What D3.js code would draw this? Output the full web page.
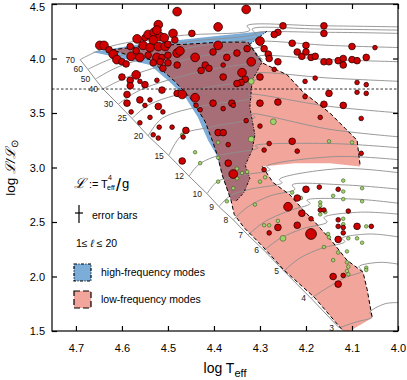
<!DOCTYPE html>
<html>
<head>
<meta charset="utf-8">
<script src="https://cdn.jsdelivr.net/npm/d3@7"></script>
<style>
body { margin: 0; background: #fff; }
text { font-family: "Liberation Sans", Arial, sans-serif; }
</style>
</head>
<body>
<svg id="chart" width="407" height="380"></svg>
<script>
"use strict";

// axis ticks
var xTicks = [4.7, 4.6, 4.5, 4.4, 4.3, 4.2, 4.1, 4.0];
var yTicks = [1.5, 2.0, 2.5, 3.0, 3.5, 4.0, 4.5];

// evolutionary tracks, [log Teff, log L] from ZAMS onwards
var masses = [70, 60, 50, 40, 30, 25, 20, 15, 12, 10, 9, 8, 7, 6, 5, 4, 3];
var tracks = [
    [[4.691,3.99],[4.626,4.11],[4.474,4.21],[4.322,4.26],[4.328,4.30],[4.169,4.30],[3.995,4.29]],
    [[4.674,3.90],[4.615,4.01],[4.463,4.15],[4.311,4.23],[4.317,4.27],[4.169,4.27],[3.995,4.26]],
    [[4.658,3.81],[4.604,3.93],[4.452,4.10],[4.304,4.20],[4.311,4.23],[4.158,4.24],[3.995,4.23]],
    [[4.641,3.72],[4.582,3.84],[4.441,4.01],[4.295,4.12],[4.302,4.15],[4.148,4.12],[3.995,4.10]],
    [[4.608,3.58],[4.561,3.71],[4.430,3.88],[4.295,3.99],[4.302,4.02],[4.148,3.99],[3.995,3.97]],
    [[4.578,3.45],[4.539,3.58],[4.419,3.73],[4.304,3.82],[4.311,3.86],[4.148,3.82],[3.995,3.79]],
    [[4.543,3.29],[4.513,3.45],[4.419,3.57],[4.317,3.64],[4.324,3.67],[4.148,3.56],[3.995,3.50]],
    [[4.498,3.11],[4.469,3.30],[4.409,3.37],[4.311,3.46],[4.317,3.49],[4.148,3.35],[3.995,3.28]],
    [[4.454,2.92],[4.435,3.02],[4.398,3.10],[4.304,3.18],[4.311,3.20],[4.148,3.22],[3.995,3.18]],
    [[4.415,2.76],[4.393,2.87],[4.354,2.92],[4.278,2.98],[4.285,3.01],[4.137,3.10],[3.995,3.07]],
    [[4.389,2.64],[4.365,2.74],[4.322,2.80],[4.252,2.86],[4.258,2.89],[4.126,2.99],[3.995,2.95]],
    [[4.358,2.52],[4.326,2.64],[4.278,2.74],[4.224,2.80],[4.230,2.84],[4.115,2.84],[3.995,2.80]],
    [[4.326,2.38],[4.291,2.50],[4.239,2.60],[4.191,2.67],[4.198,2.70],[4.093,2.71],[3.995,2.67]],
    [[4.291,2.24],[4.256,2.35],[4.206,2.44],[4.154,2.50],[4.161,2.54],[4.082,2.59],[3.995,2.57]],
    [[4.248,2.05],[4.213,2.17],[4.165,2.26],[4.115,2.32],[4.122,2.35],[4.061,2.39],[3.995,2.36]],
    [[4.189,1.80],[4.156,1.89],[4.115,1.99],[4.078,2.05],[4.085,2.09],[4.039,2.13],[3.995,2.11]],
    [[4.128,1.53],[4.093,1.58],[4.056,1.63],[4.061,1.67],[4.028,1.75],[3.995,1.76]]
];

// instability regions
var blueRegion = [
    [4.665,4.06],[4.561,4.13],[4.430,4.19],[4.317,4.24],[4.285,4.25],[4.322,4.13],
    [4.295,3.97],[4.317,3.80],[4.322,3.55],[4.311,3.30],[4.317,3.16],[4.332,3.02],
    [4.322,2.90],[4.335,2.77],[4.352,2.69],[4.363,2.70],[4.382,2.93],[4.395,3.12],
    [4.413,3.25],[4.435,3.46],[4.463,3.65],[4.495,3.78],[4.539,3.94],[4.608,4.01]
];
var blueEdge = [4, 14];

var pinkRegion = [
    [4.622,4.08],[4.539,4.12],[4.463,4.13],[4.387,4.15],[4.326,4.15],[4.304,4.01],
    [4.295,3.96],[4.241,3.85],[4.206,3.69],[4.148,3.50],[4.115,3.36],[4.089,3.25],
    [4.082,3.01],[4.148,3.04],[4.224,3.04],[4.295,3.01],[4.271,2.86],[4.235,2.75],
    [4.206,2.61],[4.185,2.52],[4.141,2.31],[4.111,2.15],[4.076,2.04],[4.067,1.88],
    [4.056,1.62],[4.093,1.53],[4.113,1.47],[4.182,1.81],[4.248,2.06],[4.295,2.28],
    [4.335,2.45],[4.356,2.57],[4.363,2.70],[4.382,2.93],[4.391,3.09],[4.402,3.23],
    [4.419,3.42],[4.448,3.62],[4.485,3.79],[4.539,3.99],[4.593,4.04]
];
var pinkEdges = [[0, 12], [15, 24], [26, 41]];

var hLine = 3.72;

// stars: [log Teff, log L, size class]
var redStars = [
    [4.648,4.12,3],[4.639,4.12,3],[4.628,4.08,2],[4.619,4.04,3],[4.611,3.99,3],[4.600,3.97,2],
    [4.591,3.95,2],[4.580,4.02,3],[4.561,4.01,3],[4.569,4.07,2],[4.582,4.11,2],[4.567,4.18,3],
    [4.550,4.19,2],[4.543,4.22,3],[4.530,4.24,3],[4.521,4.31,3],[4.517,4.20,3],[4.508,4.19,3],
    [4.489,4.23,3],[4.485,4.17,2],[4.554,4.12,3],[4.539,4.10,3],[4.521,4.11,3],[4.506,4.11,3],
    [4.543,4.03,2],[4.524,4.01,3],[4.513,4.01,2],[4.532,3.96,2],[4.517,3.97,2],[4.500,3.96,2],
    [4.500,4.03,2],[4.480,4.05,3],[4.474,4.07,3],[4.480,4.43,3],[4.448,4.23,2],[4.511,3.91,2],
    [4.480,3.94,2],[4.524,4.26,3],[4.532,4.17,3],[4.500,4.13,2],
    [4.600,3.83,2],[4.569,3.85,3],[4.582,3.80,2],[4.582,3.75,2],[4.561,3.79,1],[4.550,3.76,2],
    [4.513,3.71,2],[4.524,3.80,1],[4.589,3.67,2],[4.561,3.62,2],[4.539,3.62,1],[4.589,3.59,2],
    [4.550,3.57,1],[4.521,3.56,2],[4.580,3.51,1],[4.539,3.46,1],[4.561,3.41,1],[4.532,3.30,1],
    [4.521,3.27,1],[4.519,3.37,1],[4.511,3.51,1],[4.491,3.37,1],[4.461,3.34,2],[4.467,3.28,1],
    [4.469,3.06,2],[4.480,3.68,2],[4.469,3.67,3],
    [4.391,4.29,3],[4.330,4.45,3],[4.250,4.30,2],[4.261,4.24,2],[4.269,4.22,2],[4.300,4.16,3],
    [4.391,4.12,3],[4.402,4.06,2],[4.441,4.01,3],[4.350,4.05,2],[4.328,4.09,2],[4.319,3.97,3],
    [4.291,4.09,2],[4.282,4.04,2],[4.280,4.00,2],[4.261,3.97,2],[4.269,3.90,1],[4.230,4.14,2],
    [4.219,4.06,2],[4.209,4.02,2],[4.200,4.12,2],[4.200,4.06,2],[4.189,4.01,2],[4.180,4.02,2],
    [4.372,4.01,2],[4.380,3.94,1],[4.419,3.94,2],[4.411,3.91,2],[4.428,3.89,2],[4.380,3.83,2],
    [4.339,3.87,3],[4.332,3.81,2],[4.341,3.78,2],[4.350,3.77,2],[4.300,3.83,2],[4.441,3.64,3],
    [4.402,3.59,2],[4.361,3.59,2],[4.358,3.57,1],[4.380,3.54,1],[4.300,3.59,2],[4.261,3.60,2],
    [4.439,3.57,1],[4.430,3.53,1],[4.330,3.43,1],[4.300,3.38,1],[4.202,3.79,1],[4.202,3.65,1],
    [4.161,4.30,2],[4.161,4.23,2],[4.161,3.97,2],[4.150,3.97,2],[4.130,3.98,2],[4.119,4.00,2],
    [4.119,3.94,2],[4.100,3.99,2],[4.089,3.98,2],[4.069,4.01,2],[4.100,4.11,2],[4.050,4.10,1],
    [4.180,3.82,1],[4.150,3.68,2],[4.089,3.78,1],[4.069,3.76,1],[4.089,3.69,1],[4.069,3.68,1],
    [4.119,3.57,2],[4.161,3.58,2],[4.169,3.46,1],[4.080,3.45,1],
    [4.391,3.32,2],[4.380,3.32,2],[4.369,3.21,1],[4.280,3.22,1],[4.291,3.16,1],[4.230,3.24,2],
    [4.219,3.15,1],[4.080,3.13,1],[4.369,3.04,2],[4.358,2.94,3],[4.291,2.98,1],
    [4.171,2.82,1],[4.200,2.80,2],[4.219,2.72,2],[4.130,2.80,1],[4.239,2.64,3],[4.209,2.58,2],
    [4.189,2.53,1],[4.169,2.61,1],[4.161,2.61,1],[4.108,2.60,1],[4.280,2.40,1],[4.261,2.45,2],
    [4.219,2.47,2],[4.189,2.39,4],[4.130,2.34,2],[4.130,2.52,1],[4.130,2.46,1],[4.119,2.45,1],
    [4.119,2.40,1],[4.089,2.46,2],[4.058,2.46,1],[4.141,2.00,2],[4.119,2.01,1],[4.130,1.93,2]
];
var greenStars = [
    [4.469,3.30,1],[4.441,3.14,1],[4.430,3.04,1],[4.391,3.23,1],[4.391,3.09,1],[4.350,2.99,1],
    [4.339,2.95,1],[4.328,2.96,1],[4.350,2.90,1],[4.391,2.87,1],[4.358,2.81,1],[4.372,2.69,1],
    [4.319,3.79,2],[4.271,3.42,2],[4.319,3.26,2],[4.150,3.24,1],[4.100,3.23,1],[4.289,2.91,1],
    [4.300,2.87,1],[4.119,2.88,1],[4.078,2.81,1],[4.119,2.78,1],[4.211,2.72,1],[4.230,2.77,1],
    [4.169,2.68,1],[4.169,2.65,1],[4.141,2.74,1],[4.119,2.71,1],[4.078,2.69,1],[4.311,2.66,1],
    [4.158,2.59,1],[4.169,2.57,1],[4.261,2.51,1],[4.291,2.47,1],[4.280,2.47,1],[4.250,2.35,2],
    [4.152,2.39,1],[4.150,2.36,1],[4.161,2.27,1],[4.141,2.15,1],[4.130,2.22,1],[4.111,2.23,1],
    [4.111,2.13,1],[4.108,2.09,1],[4.111,2.05,1],[4.119,2.53,1],[4.119,2.48,1],[4.069,2.46,1],
    [4.108,2.35,1],[4.089,2.35,1],[4.078,2.31,1],[4.069,2.08,1],[4.069,2.06,1],[4.108,2.02,1]
];

var svg = d3.select("#chart"),
    plotLeft = 52, plotRight = 398, plotTop = 4, plotBottom = 331;

var x = d3.scaleLinear().domain([4.752, 4.0]).range([plotLeft, plotRight]);
var y = d3.scaleLinear().domain([1.5, 4.5]).range([plotBottom, plotTop]);
var rRed = d3.scaleLinear().domain([1, 4]).range([2.3, 5.4]);
var rGreen = d3.scaleLinear().domain([1, 2]).range([1.8, 2.9]);

var defs = svg.append("defs");
defs.append("clipPath").attr("id", "plotClip")
    .append("rect").attr("x", plotLeft).attr("y", plotTop)
    .attr("width", plotRight - plotLeft).attr("height", plotBottom - plotTop);

var poly = d3.line().x(function (d) { return x(d[0]); }).y(function (d) { return y(d[1]); });
var smooth = d3.line().x(function (d) { return x(d[0]); }).y(function (d) { return y(d[1]); })
    .curve(d3.curveCatmullRom.alpha(0.5));

defs.append("clipPath").attr("id", "blueClip")
    .append("path").attr("d", poly(blueRegion) + "Z");

function slice(pts, a, b) {
    var out = [];
    for (var i = a; i <= b; i++) { out.push(pts[i % pts.length]); }
    return out;
}

var plot = svg.append("g").attr("clip-path", "url(#plotClip)");

// regions
plot.append("path").attr("d", poly(blueRegion) + "Z").attr("fill", "#7cacd8");
plot.append("path").attr("d", poly(pinkRegion) + "Z").attr("fill", "#f2a59b");
plot.append("path").attr("d", poly(pinkRegion) + "Z").attr("fill", "#a86e78")
    .attr("clip-path", "url(#blueClip)");

// tracks
plot.selectAll("path.track").data(tracks).enter().append("path")
    .attr("class", "track")
    .attr("d", smooth)
    .attr("fill", "none").attr("stroke", "#8f8f8f").attr("stroke-width", 0.9);

plot.append("path")
    .attr("d", poly(tracks.map(function (t) { return t[0]; })))
    .attr("fill", "none").attr("stroke", "#8f8f8f").attr("stroke-width", 1);

// region outlines
pinkEdges.forEach(function (e) {
    plot.append("path").attr("d", poly(slice(pinkRegion, e[0], e[1])))
        .attr("fill", "none").attr("stroke", "#000").attr("stroke-width", 1)
        .attr("stroke-dasharray", "4,2.5");
});
plot.append("path").attr("d", poly(slice(blueRegion, blueEdge[0], blueEdge[1])))
    .attr("fill", "none").attr("stroke", "#000").attr("stroke-width", 0.9)
    .attr("stroke-dasharray", "2.5,1.5,0.8,1.5");

plot.append("line")
    .attr("x1", plotLeft).attr("x2", plotRight).attr("y1", y(hLine)).attr("y2", y(hLine))
    .attr("stroke", "#000").attr("stroke-width", 0.8).attr("stroke-dasharray", "2.5,2");

// track labels
svg.selectAll("text.mass").data(masses).enter().append("text")
    .attr("class", "mass")
    .attr("x", function (d, i) { return x(tracks[i][0][0]) - 5; })
    .attr("y", function (d, i) { return y(tracks[i][0][1]) + 3; })
    .attr("text-anchor", "end").attr("font-size", 8.5).attr("fill", "#222")
    .text(function (d) { return d; });

// stars
plot.selectAll("circle.green").data(greenStars).enter().append("circle")
    .attr("class", "green")
    .attr("cx", function (d) { return x(d[0]); })
    .attr("cy", function (d) { return y(d[1]); })
    .attr("r", function (d) { return rGreen(d[2]); })
    .attr("fill", "#9fd46c").attr("stroke", "#3b5520").attr("stroke-width", 0.6);

plot.selectAll("circle.red").data(redStars).enter().append("circle")
    .attr("class", "red")
    .attr("cx", function (d) { return x(d[0]); })
    .attr("cy", function (d) { return y(d[1]); })
    .attr("r", function (d) { return rRed(d[2]); })
    .attr("fill", "#d00000").attr("stroke", "#2a0000").attr("stroke-width", 0.8);

// axes
function styleAxis(g) {
    g.select(".domain").remove();
    g.selectAll(".tick line").attr("stroke", "#000").attr("stroke-width", 1.2);
    g.selectAll(".tick text").attr("font-size", 11).attr("fill", "#000")
        .attr("font-family", "'Liberation Sans', Arial, sans-serif");
}
svg.append("g").attr("transform", "translate(0," + plotBottom + ")")
    .call(d3.axisBottom(x).tickValues(xTicks).tickFormat(d3.format(".1f"))
        .tickSizeInner(-5).tickSizeOuter(0).tickPadding(13))
    .call(styleAxis);
svg.append("g").attr("transform", "translate(0," + plotTop + ")")
    .call(d3.axisTop(x).tickValues(xTicks).tickFormat("")
        .tickSizeInner(-5).tickSizeOuter(0))
    .call(styleAxis);
svg.append("g").attr("transform", "translate(" + plotLeft + ",0)")
    .call(d3.axisLeft(y).tickValues(yTicks).tickFormat(d3.format(".1f"))
        .tickSizeInner(-5).tickSizeOuter(0).tickPadding(7))
    .call(styleAxis)
    .selectAll(".tick text")
    .filter(function (d) { return d === 4.5; })
    .attr("dy", "0.62em");

svg.append("g").attr("transform", "translate(" + plotRight + ",0)")
    .call(d3.axisRight(y).tickValues(yTicks).tickFormat("")
        .tickSizeInner(-5).tickSizeOuter(0))
    .call(styleAxis);

svg.append("rect").attr("x", plotLeft).attr("y", plotTop)
    .attr("width", plotRight - plotLeft).attr("height", plotBottom - plotTop)
    .attr("fill", "none").attr("stroke", "#000").attr("stroke-width", 1.2);

// axis titles
var xt = svg.append("text").attr("x", 225).attr("y", 373)
    .attr("text-anchor", "middle").attr("font-size", 14);
xt.append("tspan").text("log T");
xt.append("tspan").attr("font-size", 11).attr("dy", 4).text("eff");

var yt = svg.append("text")
    .attr("transform", "translate(15,168) rotate(-90)")
    .attr("text-anchor", "middle").attr("font-size", 13.5);
yt.append("tspan").text("log ");
yt.append("tspan").attr("font-style", "italic").text("\u2112/\u2112");
yt.append("tspan").attr("font-size", 10).attr("dy", 3).text("\u2299");

// legend
var lg = svg.append("g");
lg.append("text").attr("x", 74).attr("y", 188).attr("font-size", 14)
    .attr("font-style", "italic").text("\u2112");
lg.append("text").attr("x", 89).attr("y", 188).attr("font-size", 11).text(":=");
lg.append("text").attr("x", 101).attr("y", 188).attr("font-size", 11).text("T");
lg.append("text").attr("x", 108).attr("y", 180).attr("font-size", 7).text("4");
lg.append("text").attr("x", 107).attr("y", 190).attr("font-size", 7).text("eff");
lg.append("text").attr("x", 116).attr("y", 191).attr("font-size", 18).text("/");
lg.append("text").attr("x", 122).attr("y", 188).attr("font-size", 13).text("g");

lg.append("line").attr("x1", 79).attr("x2", 79).attr("y1", 205).attr("y2", 223)
    .attr("stroke", "#000").attr("stroke-width", 1.2);
lg.append("line").attr("x1", 75).attr("x2", 83).attr("y1", 213).attr("y2", 213)
    .attr("stroke", "#000").attr("stroke-width", 1.2);
lg.append("text").attr("x", 92).attr("y", 219).attr("font-size", 10.5).text("error bars");

var el = lg.append("text").attr("x", 76).attr("y", 247).attr("font-size", 10.5);
el.append("tspan").text("1\u2264 ");
el.append("tspan").attr("font-style", "italic").text("\u2113");
el.append("tspan").text(" \u2264 20");

lg.append("rect").attr("x", 74).attr("y", 264).attr("width", 17).attr("height", 17)
    .attr("fill", "#7cacd8").attr("stroke", "#000").attr("stroke-width", 1.2)
    .attr("stroke-dasharray", "3,1.5,1,1.5");
lg.append("text").attr("x", 101).attr("y", 276).attr("font-size", 10.5).text("high-frequency modes");
lg.append("rect").attr("x", 74).attr("y", 291).attr("width", 17).attr("height", 17)
    .attr("fill", "#f2a59b").attr("stroke", "#000").attr("stroke-width", 1.2)
    .attr("stroke-dasharray", "6,3");
lg.append("text").attr("x", 101).attr("y", 303).attr("font-size", 10.5).text("low-frequency modes");
</script>
</body>
</html>
